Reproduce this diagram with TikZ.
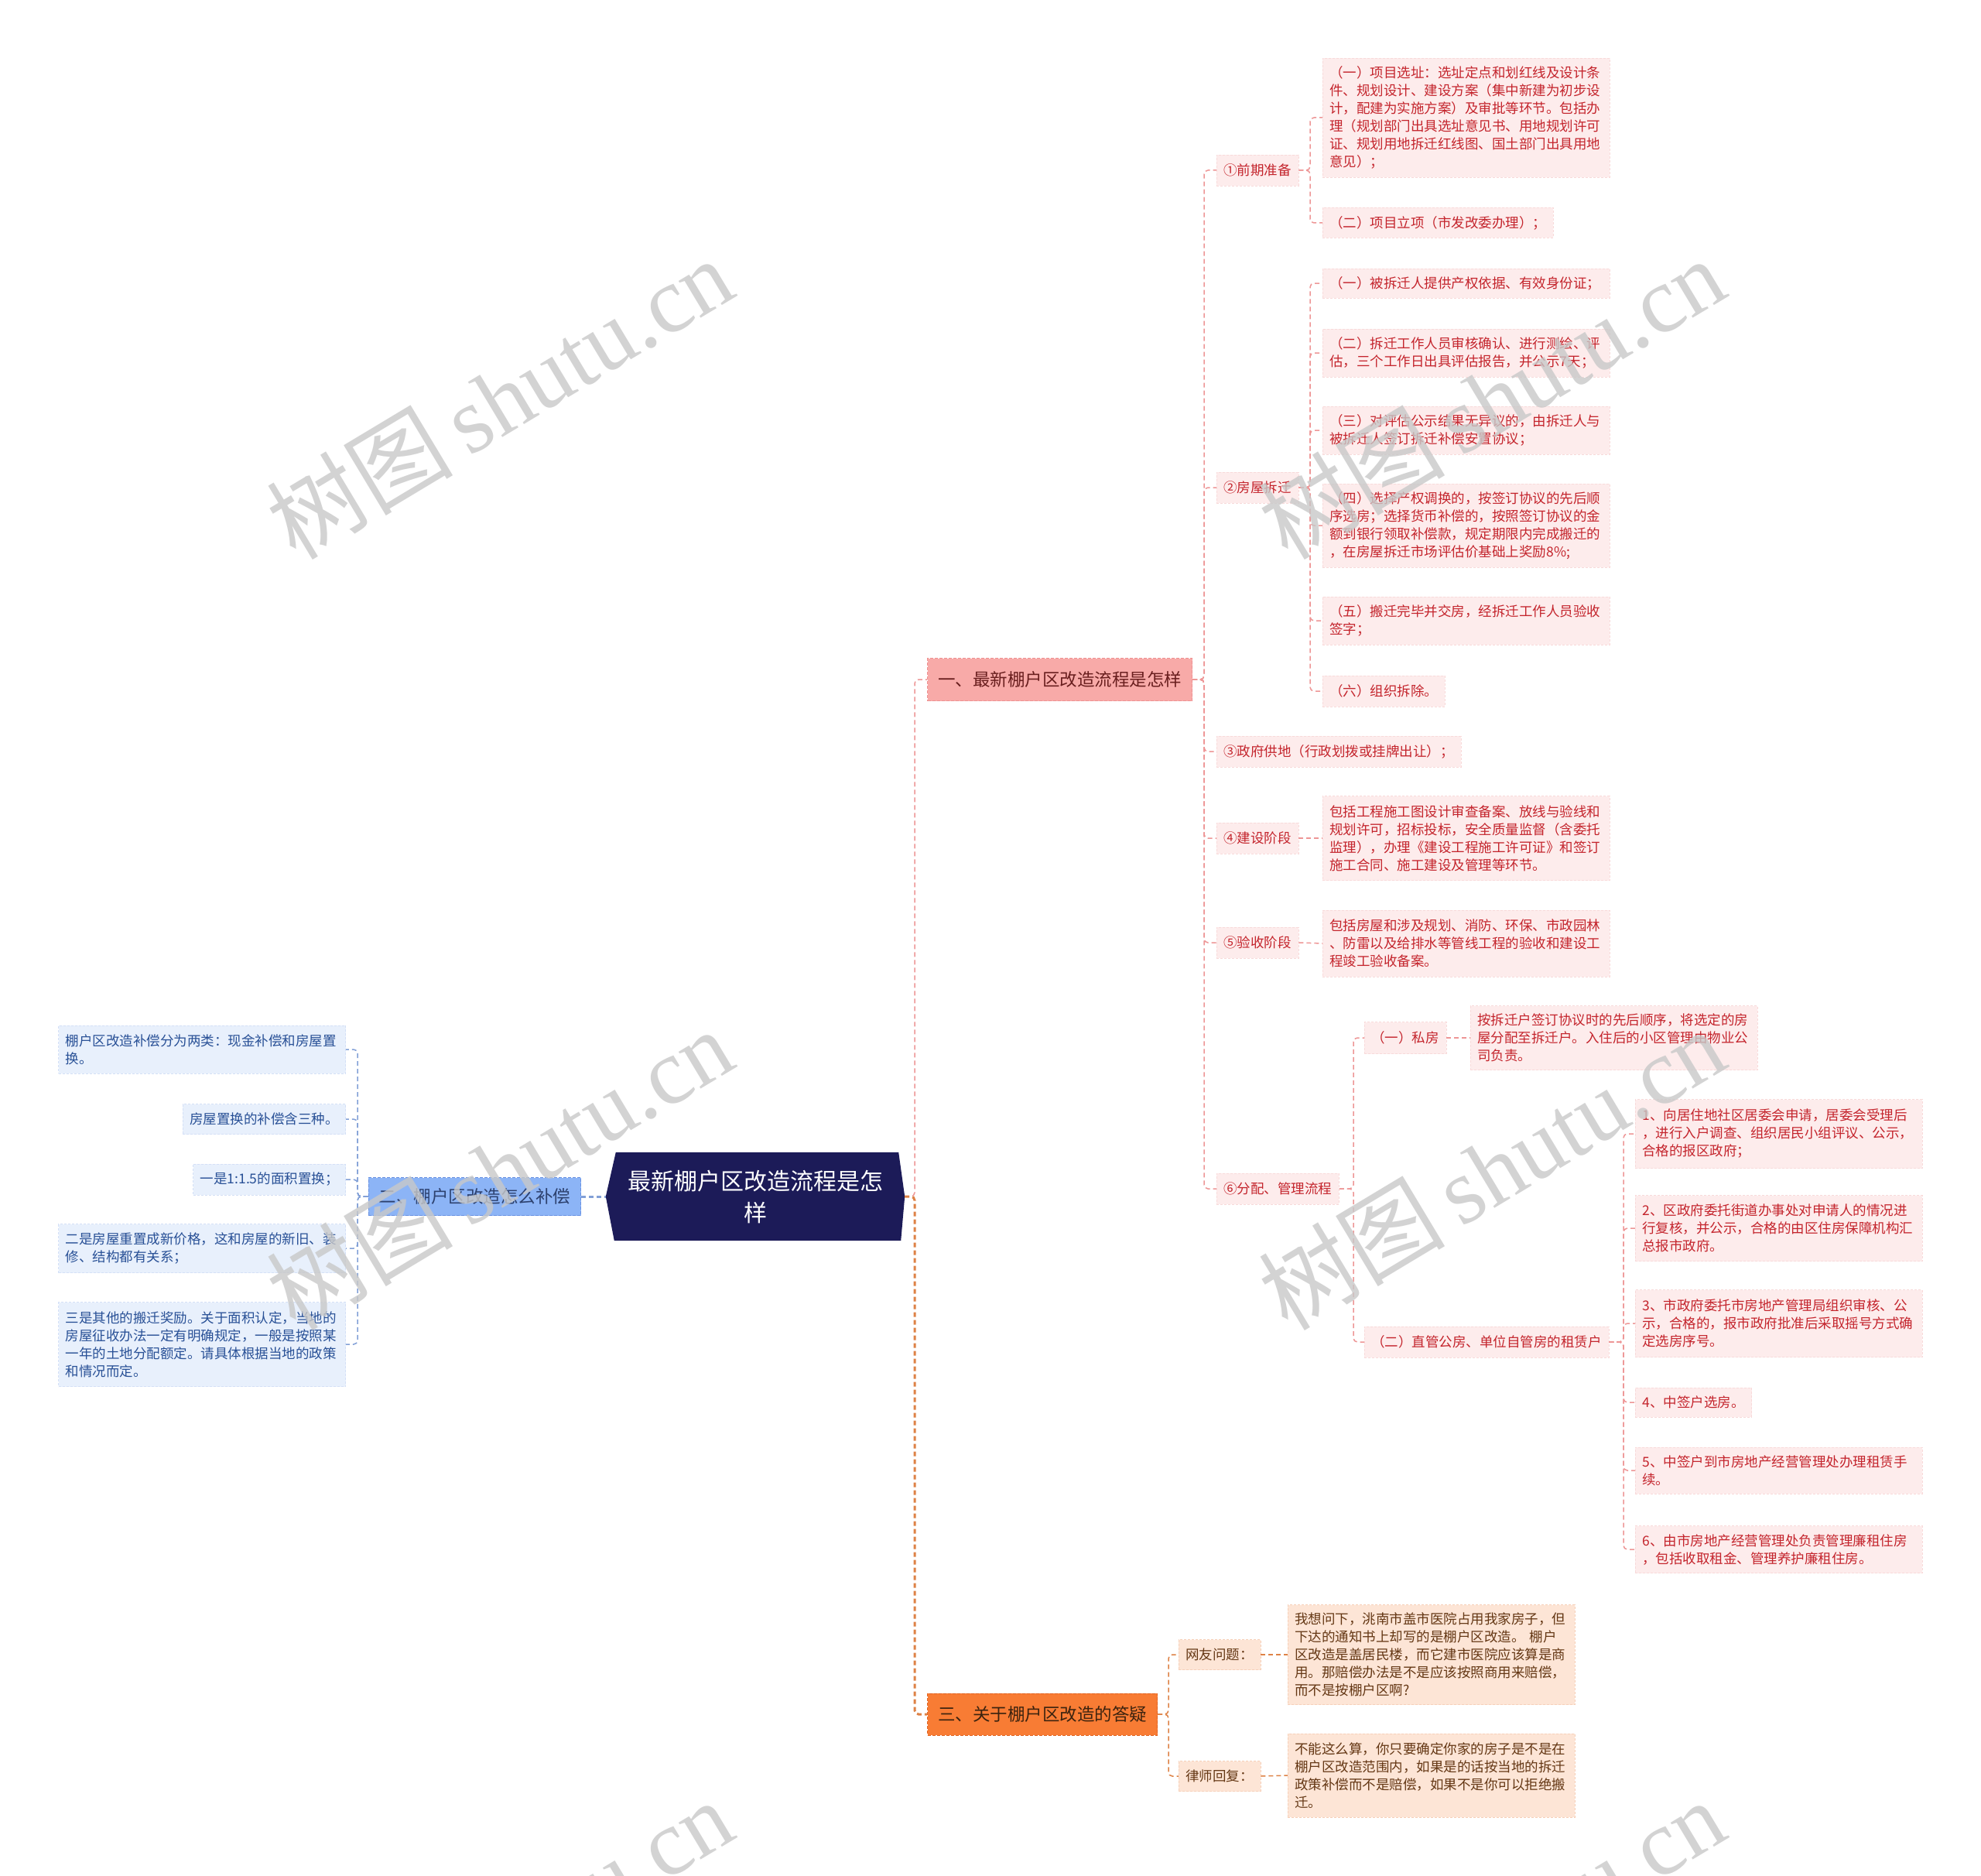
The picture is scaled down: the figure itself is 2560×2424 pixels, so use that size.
\documentclass[tikz,border=0pt]{standalone}
\usepackage{fontspec}
\setmainfont{Noto Sans CJK SC}
\newfontfamily\wmlat{Liberation Serif}
\usetikzlibrary{backgrounds}
\definecolor{redfill}{RGB}{253,236,236}
\definecolor{redtext}{RGB}{196,36,44}
\definecolor{redline}{RGB}{238,150,150}
\definecolor{redborder}{RGB}{248,218,218}
\definecolor{pinkfill}{RGB}{248,170,168}
\definecolor{pinktext}{RGB}{105,30,30}
\definecolor{pinkborder}{RGB}{238,145,145}
\definecolor{orfill}{RGB}{248,124,52}
\definecolor{orborder}{RGB}{225,100,35}
\definecolor{ortext}{RGB}{60,35,15}
\definecolor{orleaf}{RGB}{253,229,214}
\definecolor{orleafborder}{RGB}{246,208,185}
\definecolor{orleaftext}{RGB}{100,55,20}
\definecolor{orline}{RGB}{222,130,70}
\definecolor{bluefill}{RGB}{140,180,246}
\definecolor{blueborder}{RGB}{105,145,225}
\definecolor{bluetext}{RGB}{45,65,110}
\definecolor{blueleaf}{RGB}{232,240,252}
\definecolor{blueleafborder}{RGB}{212,224,246}
\definecolor{blueleaftext}{RGB}{40,80,150}
\definecolor{blueline}{RGB}{130,160,215}
\definecolor{navy}{RGB}{28,27,88}
\definecolor{wmgray}{RGB}{200,200,200}
\tikzset{
  base/.style={rectangle, inner xsep=9pt, inner ysep=0pt, align=left,
    font=\fontsize{17.5}{23}\selectfont, dash pattern=on 3pt off 2pt, line width=0.8pt},
  wide/.style={text width=353pt},
  rbox/.style={base, fill=redfill, draw=redborder, text=redtext},
  obox/.style={base, fill=orleaf, draw=orleafborder, text=orleaftext},
  bbox/.style={base, fill=blueleaf, draw=blueleafborder, text=blueleaftext},
  topbase/.style={rectangle, inner xsep=13.5pt, inner ysep=0pt,
    font=\fontsize{22.5}{28}\selectfont, dash pattern=on 4pt off 2pt, line width=1pt},
  topred/.style={topbase, fill=pinkfill, draw=pinkborder, text=pinktext},
  topor/.style={topbase, fill=orfill, draw=orborder, text=ortext},
  topblue/.style={topbase, fill=bluefill, draw=blueborder, text=bluetext},
  conn/.style={line width=1.5pt, dash pattern=on 6pt off 4pt, rounded corners=5pt},
  rl/.style={conn, draw=redline},
  ol/.style={conn, draw=orline},
  bl/.style={conn, draw=blueline},
  wmark/.style={rotate=31, text=wmgray, opacity=0.8, inner sep=0pt}
}
\begin{document}
\begin{tikzpicture}[x=1pt,y=-1pt]
\useasboundingbox (0,0) rectangle (2560,2424);

% ---------- root ----------
\node[text=white, font=\fontsize{30}{41}\selectfont, align=center, text width=360pt,
      minimum width=386pt, minimum height=114pt, inner sep=0pt] (root) at (976,1546)
      {最新棚户区改造流程是怎\\样};
\begin{scope}[on background layer]
  \fill[white] (0,0) rectangle (2560,2424);
  \fill[navy] ([xshift=13pt]root.north west) -- ([xshift=-8pt]root.north east) -- (root.east)
     -- ([xshift=-5pt]root.south east) -- ([xshift=11pt]root.south west) -- (root.west) -- cycle;
\end{scope}

% ---------- level 1 ----------
\node[topred, anchor=west, minimum height=55pt] (n1) at (1198,878) {一、最新棚户区改造流程是怎样};
\node[topor, anchor=west, minimum height=54pt] (n3) at (1198,2215) {三、关于棚户区改造的答疑};
\node[topblue, anchor=east, minimum height=49pt] (n2) at (751,1546) {二、棚户区改造怎么补偿};

% ---------- level 2 (red) ----------
\node[rbox, anchor=west, minimum height=40pt] (a1) at (1572,220) {①前期准备};
\node[rbox, anchor=west, minimum height=40pt] (a2) at (1572,630) {②房屋拆迁};
\node[rbox, anchor=west, minimum height=40pt] (a3) at (1572,971) {③政府供地（行政划拨或挂牌出让）；};
\node[rbox, anchor=west, minimum height=40pt] (a4) at (1572,1083) {④建设阶段};
\node[rbox, anchor=west, minimum height=40pt] (a5) at (1572,1218) {⑤验收阶段};
\node[rbox, anchor=west, minimum height=40pt] (a6) at (1572,1536) {⑥分配、管理流程};

% ---------- level 3 (red) ----------
\node[rbox, wide, anchor=west, minimum height=154pt] (b11) at (1709,152)
  {（一）项目选址：选址定点和划红线及设计条\\件、规划设计、建设方案（集中新建为初步设\\计，配建为实施方案）及审批等环节。包括办\\理（规划部门出具选址意见书、用地规划许可\\证、规划用地拆迁红线图、国土部门出具用地\\意见）；};
\node[rbox, anchor=west, minimum height=39pt] (b12) at (1709,288) {（二）项目立项（市发改委办理）；};

\node[rbox, wide, anchor=west, minimum height=38pt] (b21) at (1709,366) {（一）被拆迁人提供产权依据、有效身份证；};
\node[rbox, wide, anchor=west, minimum height=62pt] (b22) at (1709,456)
  {（二）拆迁工作人员审核确认、进行测绘、评\\估，三个工作日出具评估报告，并公示7天；};
\node[rbox, wide, anchor=west, minimum height=62pt] (b23) at (1709,556)
  {（三）对评估公示结果无异议的，由拆迁人与\\被拆迁人签订拆迁补偿安置协议；};
\node[rbox, wide, anchor=west, minimum height=108pt] (b24) at (1709,679)
  {（四）选择产权调换的，按签订协议的先后顺\\序选房；选择货币补偿的，按照签订协议的金\\额到银行领取补偿款，规定期限内完成搬迁的\\，在房屋拆迁市场评估价基础上奖励8\%;};
\node[rbox, wide, anchor=west, minimum height=62pt] (b25) at (1709,802)
  {（五）搬迁完毕并交房，经拆迁工作人员验收\\签字；};
\node[rbox, anchor=west, minimum height=40pt] (b26) at (1709,893) {（六）组织拆除。};

\node[rbox, wide, anchor=west, minimum height=109pt] (b4) at (1709,1083)
  {包括工程施工图设计审查备案、放线与验线和\\规划许可，招标投标，安全质量监督（含委托\\监理），办理《建设工程施工许可证》和签订\\施工合同、施工建设及管理等环节。};
\node[rbox, wide, anchor=west, minimum height=86pt] (b5) at (1709,1219)
  {包括房屋和涉及规划、消防、环保、市政园林\\、防雷以及给排水等管线工程的验收和建设工\\程竣工验收备案。};

% ---------- under 6 ----------
\node[rbox, anchor=west, minimum height=41pt] (c1) at (1763,1341) {（一）私房};
\node[rbox, anchor=west, minimum height=40pt] (c2) at (1763,1734) {（二）直管公房、单位自管房的租赁户};
\node[rbox, wide, anchor=west, minimum height=83pt] (c1a) at (1900,1341)
  {按拆迁户签订协议时的先后顺序，将选定的房\\屋分配至拆迁户。入住后的小区管理由物业公\\司负责。};

\node[rbox, wide, anchor=west, minimum height=89pt] (d1) at (2113,1465)
  {1、向居住地社区居委会申请，居委会受理后\\，进行入户调查、组织居民小组评议、公示，\\合格的报区政府；};
\node[rbox, wide, anchor=west, minimum height=85pt] (d2) at (2113,1587)
  {2、区政府委托街道办事处对申请人的情况进\\行复核，并公示，合格的由区住房保障机构汇\\总报市政府。};
\node[rbox, wide, anchor=west, minimum height=87pt] (d3) at (2113,1710)
  {3、市政府委托市房地产管理局组织审核、公\\示，合格的，报市政府批准后采取摇号方式确\\定选房序号。};
\node[rbox, anchor=west, minimum height=38pt] (d4) at (2113,1812) {4、中签户选房。};
\node[rbox, wide, anchor=west, minimum height=60pt] (d5) at (2113,1900)
  {5、中签户到市房地产经营管理处办理租赁手\\续。};
\node[rbox, wide, anchor=west, minimum height=61pt] (d6) at (2113,2002)
  {6、由市房地产经营管理处负责管理廉租住房\\，包括收取租金、管理养护廉租住房。};

% ---------- orange ----------
\node[obox, anchor=west, minimum height=39pt] (e1) at (1523,2138) {网友问题：};
\node[obox, anchor=west, minimum height=39pt] (e2) at (1523,2295) {律师回复：};
\node[obox, wide, anchor=west, minimum height=129pt] (e1a) at (1664,2138)
  {我想问下，洮南市盖市医院占用我家房子，但\\下达的通知书上却写的是棚户区改造。 棚户\\区改造是盖居民楼，而它建市医院应该算是商\\用。那赔偿办法是不是应该按照商用来赔偿，\\而不是按棚户区啊?};
\node[obox, wide, anchor=west, minimum height=108pt] (e2a) at (1664,2294)
  {不能这么算，你只要确定你家的房子是不是在\\棚户区改造范围内，如果是的话按当地的拆迁\\政策补偿而不是赔偿，如果不是你可以拒绝搬\\迁。};

% ---------- blue ----------
\node[bbox, wide, anchor=east, minimum height=62pt] (f1) at (447,1356)
  {棚户区改造补偿分为两类：现金补偿和房屋置\\换。};
\node[bbox, anchor=east, minimum height=39pt] (f2) at (447,1446) {房屋置换的补偿含三种。};
\node[bbox, anchor=east, minimum height=40pt] (f3) at (447,1524) {一是1:1.5的面积置换；};
\node[bbox, wide, anchor=east, minimum height=63pt] (f4) at (447,1613)
  {二是房屋重置成新价格，这和房屋的新旧、装\\修、结构都有关系；};
\node[bbox, wide, anchor=east, minimum height=109pt] (f5) at (447,1737)
  {三是其他的搬迁奖励。关于面积认定，当地的\\房屋征收办法一定有明确规定，一般是按照某\\一年的土地分配额定。请具体根据当地的政策\\和情况而定。};

% ---------- junctions ----------
\coordinate (jr) at (1182,1546);
\coordinate (j1) at (1556,878);
\coordinate (ja1) at (1693,220);
\coordinate (ja2) at (1693,630);
\coordinate (ja6) at (1749,1536);
\coordinate (jc2) at (2098,1734);
\coordinate (j3) at (1510,2215);
\coordinate (jl) at (462,1546);

% ---------- connectors ----------
\draw[rl] (root.east) -- (jr) |- (n1.west);
\draw[ol, line width=3pt] (root.east) -- (jr) |- (n3.west);
\draw[bl, line width=3pt] (n2.east) -- (root.west);

\foreach \c in {a1,a2,a3,a4,a5,a6} \draw[rl] (n1.east) -- (j1) |- (\c.west);
\foreach \c in {b11,b12} \draw[rl] (a1.east) -- (ja1) |- (\c.west);
\foreach \c in {b21,b22,b23,b24,b25,b26} \draw[rl] (a2.east) -- (ja2) |- (\c.west);
\draw[rl] (a4.east) -- (b4.west);
\draw[rl] (a5.east) -- (b5.west);
\foreach \c in {c1,c2} \draw[rl] (a6.east) -- (ja6) |- (\c.west);
\draw[rl] (c1.east) -- (c1a.west);
\foreach \c in {d1,d2,d3,d4,d5,d6} \draw[rl] (c2.east) -- (jc2) |- (\c.west);

\foreach \c in {e1,e2} \draw[ol] (n3.east) -- (j3) |- (\c.west);
\draw[ol] (e1.east) -- (e1a.west);
\draw[ol] (e2.east) -- (e2a.west);

\foreach \c in {f1,f2,f3,f4,f5} \draw[bl] (n2.west) -- (jl) |- (\c.east);

% ---------- watermarks ----------
\begin{scope}
  \clip (0,0) rectangle (2560,2424);
  \foreach \i/\x/\y in {1/645/514, 2/1927/514, 3/645/1510, 4/1927/1510, 5/645/2506, 6/1927/2506}
    \node[wmark] (wm\i) at (\x,\y) {\fontsize{121}{121}\selectfont 树图\,{\wmlat shutu.cn}};
\end{scope}
\end{tikzpicture}
\end{document}
